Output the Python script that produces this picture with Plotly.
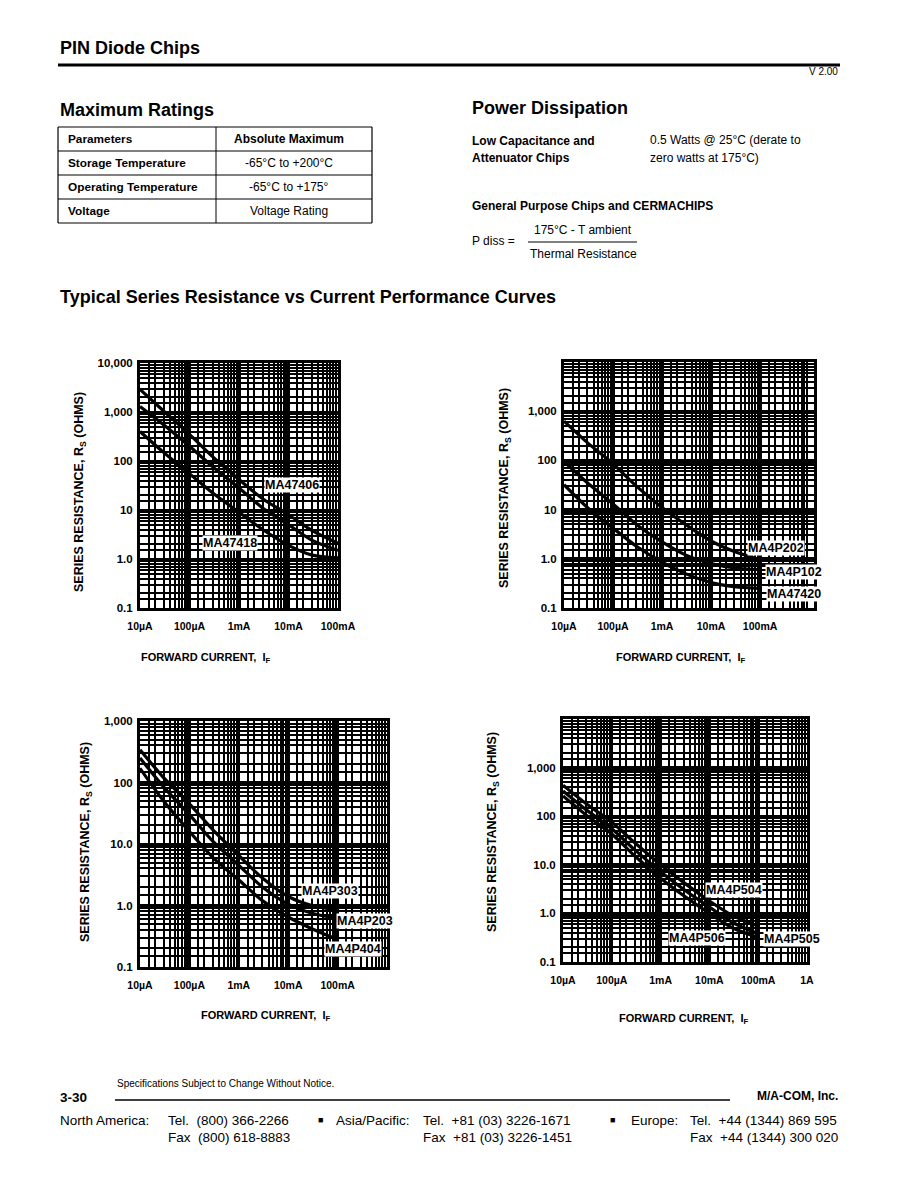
import numpy as np
import plotly.graph_objects as go

# page size in the reference and the browser's default body offset
PAGE_W, PAGE_H = 915, 1179
OFF = 8
W, H = PAGE_W - OFF, PAGE_H - OFF
FONT = "Liberation Sans, Arial, Helvetica, sans-serif"

# ---------------- data ----------------
current = [1e-5, 3e-5, 1e-4, 3e-4, 1e-3, 3e-3, 1e-2, 3e-2, 1e-1]

# chart 1
ma47406 = [2900, 1050, 350, 120, 42, 17, 8.0, 3.8, 2.1]
ma47416 = [1300, 550, 200, 75, 28, 11, 5.0, 2.4, 1.5]
ma47418 = [400, 150, 55, 22, 9.0, 4.0, 1.9, 1.2, 1.05]
# chart 2
ma4p202 = [630, 230, 85, 30, 11, 5.0, 2.3, 1.4, 0.95]
ma4p102 = [95, 35, 13, 5.0, 2.2, 1.2, 0.8, 0.65, 0.6]
ma47420 = [32, 11, 4.2, 1.8, 0.85, 0.5, 0.33, 0.27, 0.25]
# chart 3
ma4p303 = [340, 120, 45, 17, 6.5, 2.8, 1.4, 1.0, 0.85]
ma4p203 = [250, 85, 30, 11, 4.5, 2.0, 1.05, 0.75, 0.62]
ma4p404 = [170, 50, 16, 6.0, 2.6, 1.2, 0.65, 0.42, 0.28]
# chart 4
ma4p504 = [435, 180, 75, 28, 10, 4.3, 1.8, 0.9, 0.55]
ma4p505 = [330, 135, 55, 20, 7.2, 3.1, 1.35, 0.65, 0.38]
ma4p506 = [260, 105, 43, 15, 5.3, 2.3, 1.0, 0.5, 0.32]

x_ticks = [1e-5, 1e-4, 1e-3, 1e-2, 1e-1, 1]
x_ticktext = ["10µA", "100µA", "1mA", "10mA", "100mA", "1A"]

charts = [
    dict(series=[("MA47406", ma47406), ("MA47416", ma47416), ("MA47418", ma47418)],
         xr=[-5, -1], yr=[-1, 4], dom_x=(140, 338), dom_y=(363, 608),
         yt=[0.1, 1, 10, 100, 1000, 10000], ytt=["0.1", "1.0", "10", "100", "1,000", "10,000"],
         nx=5,
         labels=[("MA47406", -1.92, 1.51, "center"), ("MA47418", -3.18, 0.33, "center"),
                 ("MA47416", -0.33, 0.12, "center")],
         ytitle=(80, 492), xtitle=(205, 658)),
    dict(series=[("MA4P202", ma4p202), ("MA4P102", ma4p102), ("MA47420", ma47420)],
         xr=[-5, 0.1], yr=[-1, 4], dom_x=(564, 814), dom_y=(362, 608),
         yt=[0.1, 1, 10, 100, 1000], ytt=["0.1", "1.0", "10", "100", "1,000"],
         nx=5,
         labels=[("MA4P202", -0.67, 0.22, "center"), ("MA4P102", -0.3, -0.27, "center"),
                 ("MA47420", -0.3, -0.71, "center")],
         ytitle=(505, 488), xtitle=(680, 658)),
    dict(series=[("MA4P303", ma4p303), ("MA4P203", ma4p203), ("MA4P404", ma4p404)],
         xr=[-5, 0], yr=[-1, 3], dom_x=(140, 387), dom_y=(721, 967),
         yt=[0.1, 1, 10, 100, 1000], ytt=["0.1", "1.0", "10.0", "100", "1,000"],
         nx=5,
         labels=[("MA4P303", -1.16, 0.24, "center"), ("MA4P203", -0.45, -0.25, "center"),
                 ("MA4P404", -0.69, -0.71, "center")],
         ytitle=(86, 842), xtitle=(265, 1016)),
    dict(series=[("MA4P504", ma4p504), ("MA4P505", ma4p505), ("MA4P506", ma4p506)],
         xr=[-5, 0], yr=[-1, 4], dom_x=(563, 807), dom_y=(719, 962),
         yt=[0.1, 1, 10, 100, 1000], ytt=["0.1", "1.0", "10.0", "100", "1,000"],
         nx=6,
         labels=[("MA4P504", -1.5, 0.48, "center"), ("MA4P506", -2.26, -0.5, "center"),
                 ("MA4P505", -0.31, -0.53, "center")],
         ytitle=(493, 832), xtitle=(683, 1019)),
]


def minor_vals(lo, hi):
    vals = []
    for d in range(lo, hi + 1):
        for m in [1.5, 2, 3, 4, 5, 6, 7, 8, 9]:
            vals.append(m * 10.0 ** d)
    return vals


fig = go.Figure()
annotations = []
shapes = []


def px_x(px):
    return (px - OFF) / W


def px_y(py):
    return 1 - (py - OFF) / H


def text(t, x, y, size=11, bold=False, xanchor="left", yanchor="middle", angle=0, color="black"):
    annotations.append(dict(
        text=f"<b>{t}</b>" if bold else t, x=px_x(x), y=px_y(y), xref="paper", yref="paper",
        xanchor=xanchor, yanchor=yanchor, showarrow=False, textangle=angle,
        font=dict(family=FONT, size=size, color=color)))


def hline(x0, x1, y, w=1.0):
    shapes.append(dict(type="line", xref="paper", yref="paper", x0=px_x(x0), x1=px_x(x1),
                       y0=px_y(y), y1=px_y(y), line=dict(color="black", width=w)))


def vline(x, y0, y1, w=1.0):
    shapes.append(dict(type="line", xref="paper", yref="paper", x0=px_x(x), x1=px_x(x),
                       y0=px_y(y0), y1=px_y(y1), line=dict(color="black", width=w)))


for i, c in enumerate(charts, start=1):
    xa = "x" if i == 1 else f"x{i}"
    ya = "y" if i == 1 else f"y{i}"
    for name, vals in c["series"]:
        fig.add_trace(go.Scatter(x=current, y=vals, mode="lines", name=name,
                                 line=dict(color="black", width=3.2, shape="spline", smoothing=0.8),
                                 xaxis=xa, yaxis=ya, showlegend=False, hoverinfo="skip"))
    common = dict(type="log", showline=True, mirror=True, linecolor="black", linewidth=3,
                  showgrid=True, gridcolor="black", gridwidth=3, zeroline=False, ticks="",
                  automargin=False)
    xlay = dict(common, range=c["xr"], domain=[px_x(c["dom_x"][0]), px_x(c["dom_x"][1])],
                anchor=ya, tickmode="array", tickvals=x_ticks[:c["nx"]],
                ticktext=[f"<b>{t}</b>" for t in x_ticktext[:c["nx"]]], ticklabelstandoff=6,
                tickfont=dict(family=FONT, size=10.5, color="black"),
                minor=dict(tickmode="array", tickvals=minor_vals(-5, 0), showgrid=True,
                           gridcolor="black", gridwidth=1.7, ticks=""))
    ylay = dict(common, range=c["yr"], domain=[px_y(c["dom_y"][1]), px_y(c["dom_y"][0])],
                anchor=xa, tickmode="array", tickvals=c["yt"],
                ticktext=[f"<b>{t}</b>" for t in c["ytt"]], ticklabelstandoff=2,
                tickfont=dict(family=FONT, size=11.5, color="black"),
                minor=dict(tickmode="array", tickvals=minor_vals(-1, 4), showgrid=True,
                           gridcolor="black", gridwidth=1.7, ticks=""))
    fig.update_layout(**{("xaxis" if i == 1 else f"xaxis{i}"): xlay,
                         ("yaxis" if i == 1 else f"yaxis{i}"): ylay})
    for lab, lx, ly, anc in c["labels"]:
        annotations.append(dict(text=f"<b>{lab}</b>", x=lx, y=ly, xref=xa, yref=ya,
                                showarrow=False, xanchor=anc, yanchor="middle",
                                bgcolor="white", borderpad=0,
                                font=dict(family=FONT, size=12.5, color="black")))
    tx, ty = c["ytitle"]
    text("SERIES RESISTANCE, R<sub>S</sub> (OHMS)", tx, ty, size=12.5, bold=True,
         xanchor="center", angle=-90)
    fx, fy = c["xtitle"]
    text("FORWARD CURRENT,  I<sub>F</sub>", fx, fy, size=11, bold=True, xanchor="center")

# ---------------- page text ----------------
text("PIN Diode Chips", 58, 48, size=18, bold=True)
hline(58, 840, 65, w=3)
text("V 2.00", 840, 72, size=10, xanchor="right")

text("Maximum Ratings", 58, 110, size=18, bold=True)
# table
tbl_x0, tbl_x1, tbl_mid = 58, 372, 216
rows_y = [127, 151, 175, 199, 223]
for ry in rows_y:
    hline(tbl_x0, tbl_x1, ry, w=1.2)
vline(tbl_x0, 127, 223, w=1.2)
vline(tbl_x1, 127, 223, w=1.2)
vline(tbl_mid, 127, 223, w=1.0)
table_left = ["Parameters", "Storage Temperature", "Operating Temperature", "Voltage"]
table_right = ["Absolute Maximum", "-65°C to +200°C", "-65°C to +175°", "Voltage Rating"]
for k in range(4):
    cy = (rows_y[k] + rows_y[k + 1]) / 2
    text(table_left[k], 66, cy, size=11.8, bold=True)
    text(table_right[k], 289, cy, size=12, bold=(k == 0), xanchor="center")

text("Power Dissipation", 470, 108, size=18, bold=True)
text("Low Capacitance and", 470, 141, size=12, bold=True)
text("Attenuator Chips", 470, 158, size=12, bold=True)
text("0.5 Watts @ 25°C (derate to", 648, 140, size=12)
text("zero watts at 175°C)", 648, 158, size=12)
text("General Purpose Chips and CERMACHIPS", 470, 206, size=12, bold=True)
text("175°C - T ambient", 583, 230, size=12, xanchor="center")
hline(528, 637, 242, w=1)
text("P diss =", 470, 241, size=12)
text("Thermal Resistance", 583, 254, size=12, xanchor="center")

text("Typical Series Resistance vs Current Performance Curves", 58, 297, size=18, bold=True)

# ---------------- footer ----------------
text("Specifications Subject to Change Without Notice.", 115, 1083, size=10)
text("3-30", 58, 1097, size=13.5, bold=True)
hline(115, 730, 1100, w=1.5)
text("M/A-COM, Inc.", 840, 1096, size=12, bold=True, xanchor="right")
text("North America:", 58, 1120, size=13.5)
text("Tel.  (800) 366-2266", 166, 1120, size=13.5)
text("Fax  (800) 618-8883", 166, 1137, size=13.5)
text("■", 316, 1120, size=9)
text("Asia/Pacific:", 334, 1120, size=13.5)
text("Tel.  +81 (03) 3226-1671", 421, 1120, size=13.5)
text("Fax  +81 (03) 3226-1451", 421, 1137, size=13.5)
text("■", 608, 1120, size=9)
text("Europe:", 629, 1120, size=13.5)
text("Tel.  +44 (1344) 869 595", 688, 1120, size=13.5)
text("Fax  +44 (1344) 300 020", 688, 1137, size=13.5)

fig.update_layout(width=W, height=H, margin=dict(l=0, r=0, t=0, b=0, autoexpand=False),
                  paper_bgcolor="white", plot_bgcolor="white", showlegend=False,
                  annotations=annotations, shapes=shapes,
                  font=dict(family=FONT, color="black"))

fig.write_html("out.html")
